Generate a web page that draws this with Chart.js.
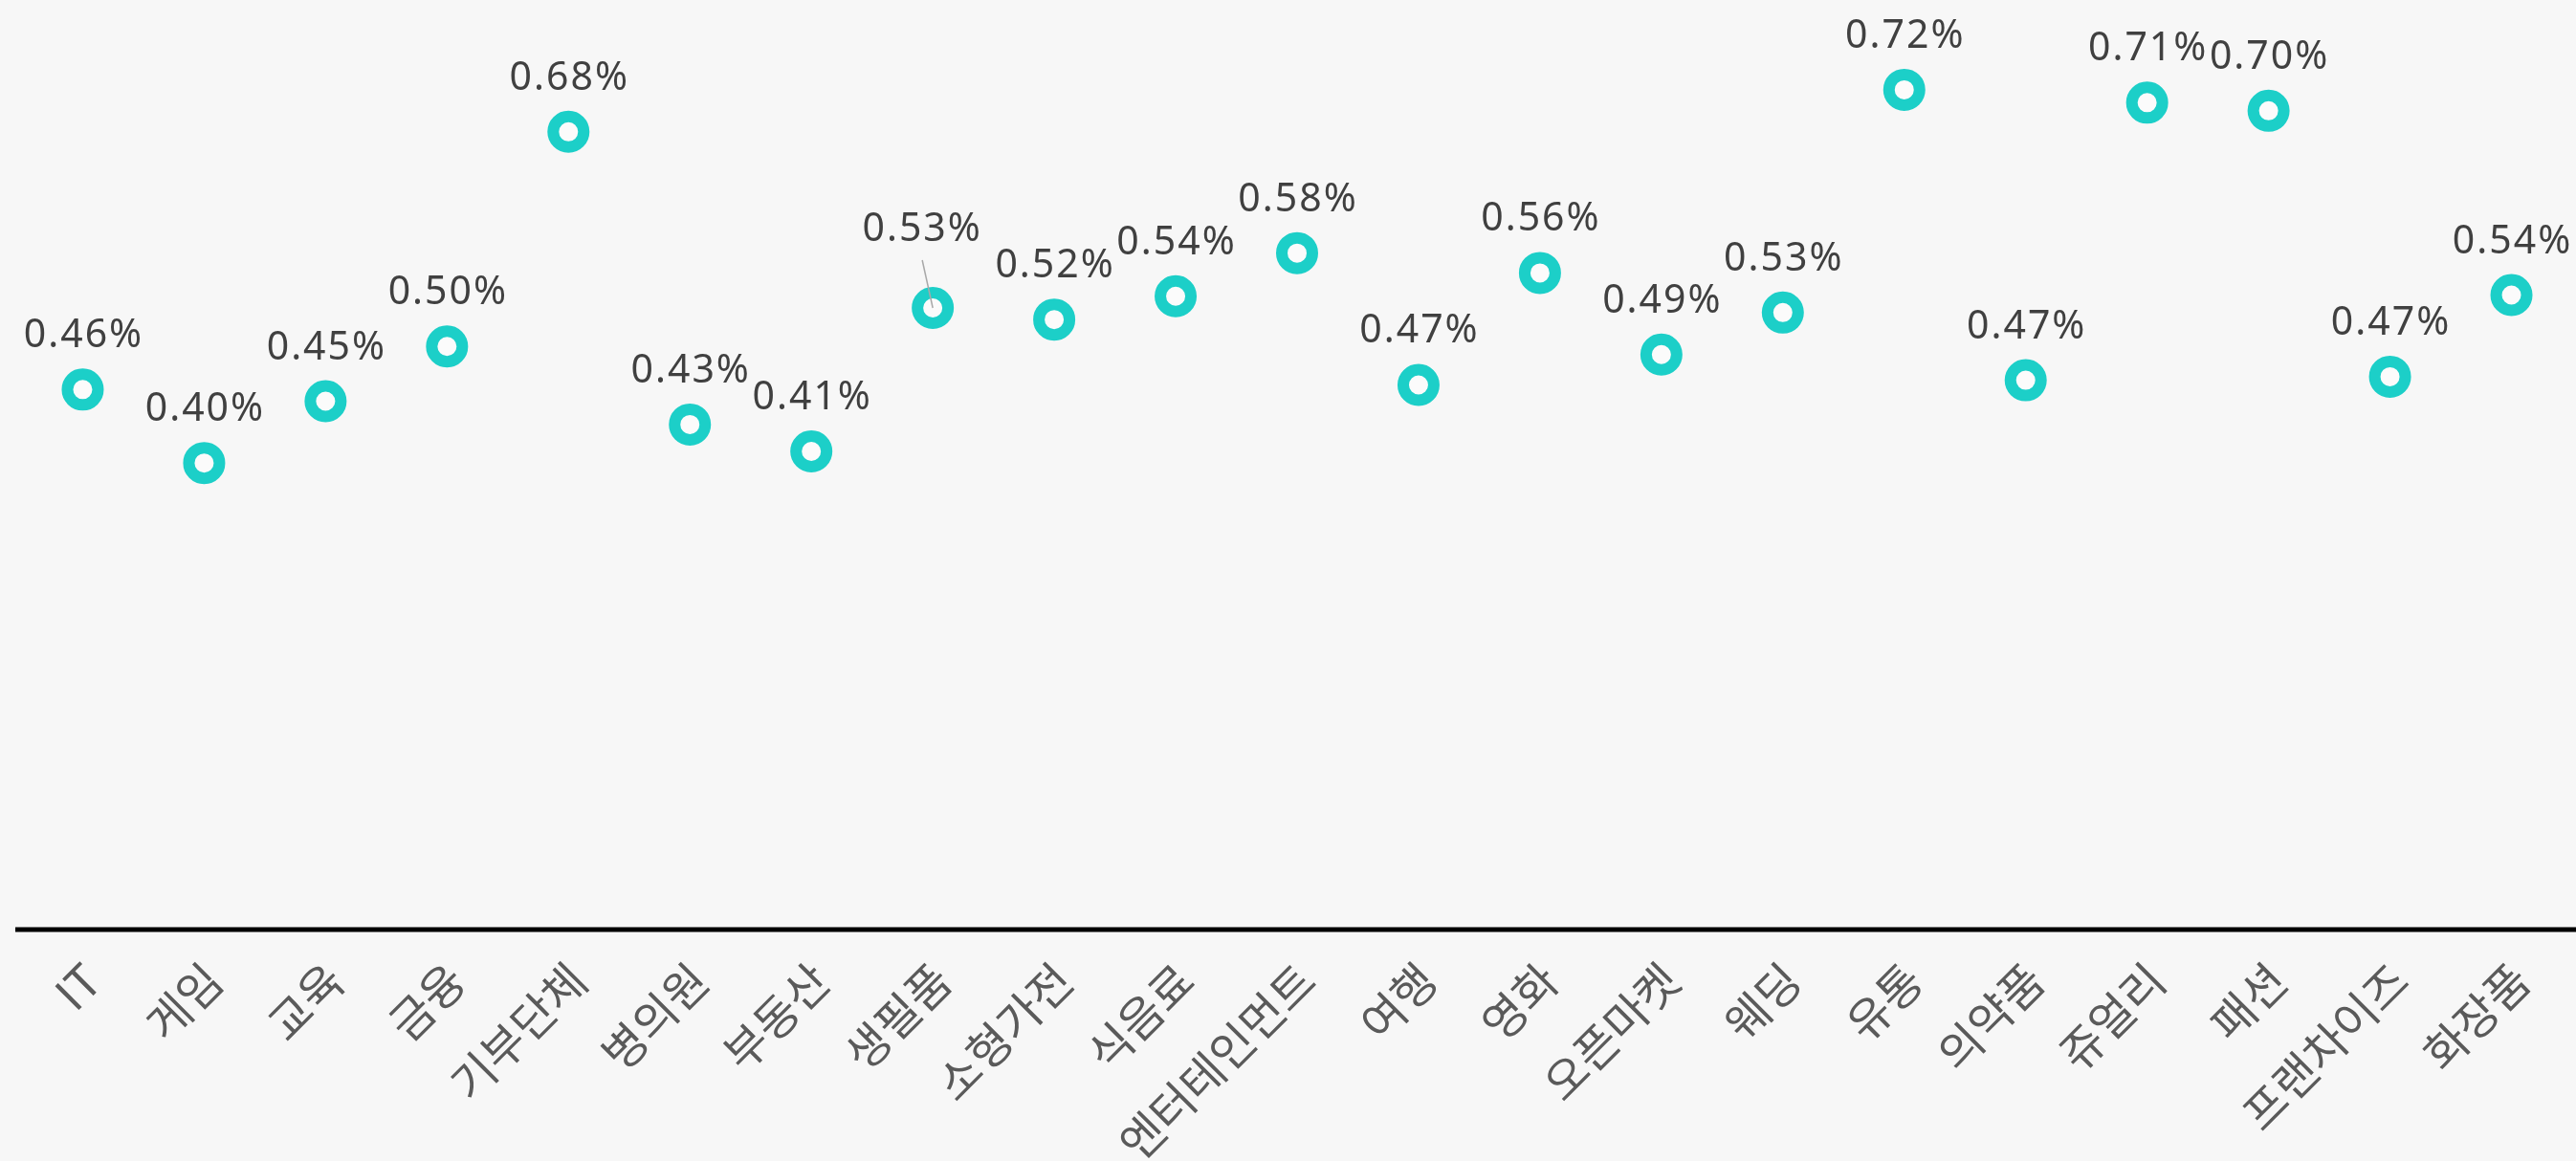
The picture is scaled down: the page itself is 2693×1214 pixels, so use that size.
<!DOCTYPE html>
<html lang="ko">
<head>
<meta charset="utf-8">
<title>업종별 비율</title>
<script src="https://cdn.jsdelivr.net/npm/chart.js@4.4.1/dist/chart.umd.min.js"></script>
<style>
  html, body { margin: 0; padding: 0; background: #f7f7f7; }
  #wrap { width: 2693px; height: 1214px; position: relative; }
</style>
</head>
<body>
<div id="wrap"><canvas id="chart"></canvas></div>
<script>
// Categories (x axis)
const categories = [
  'IT', '게임', '교육', '금융', '기부단체', '병의원', '부동산', '생필품',
  '소형가전', '식음료', '엔터테인먼트', '여행', '영화', '오픈마켓', '웨딩',
  '유통', '의약품', '쥬얼리', '패션', '프랜차이즈', '화장품'
];

// Share per category, in percent
const shareValues = [
  0.463, 0.400, 0.453, 0.500, 0.684, 0.433, 0.410, 0.533,
  0.523, 0.543, 0.580, 0.467, 0.563, 0.493, 0.529,
  0.720, 0.471, 0.709, 0.702, 0.474, 0.544
];

// Colours
const colors = {
  background: '#f7f7f7',
  ring: '#1ccfc8',
  hole: '#fbfbfb',
  label: '#404040',
  tick: '#5a5a5a',
  axis: '#000000',
  leader: '#a8a8a8',
};

// Labels that were moved off their point in the original (index -> shift)
const labelNudges = { 7: { dx: -12, dy: -26 } };

// Draws the base line and the value labels above each point
const valueLabels = {
  id: 'valueLabels',
  beforeDatasetsDraw(chart) {
    const { ctx, chartArea } = chart;
    ctx.save();
    ctx.strokeStyle = colors.axis;
    ctx.lineWidth = 5;
    ctx.beginPath();
    ctx.moveTo(16, chartArea.bottom);
    ctx.lineTo(chart.width, chartArea.bottom);
    ctx.stroke();
    ctx.restore();
  },
  afterDatasetsDraw(chart) {
    const { ctx } = chart;
    const meta = chart.getDatasetMeta(0);
    ctx.save();
    ctx.font = "41px 'Noto Sans', sans-serif";
    ctx.letterSpacing = '2px';
    ctx.textAlign = 'center';
    ctx.textBaseline = 'alphabetic';
    meta.data.forEach((pt, i) => {
      const nudge = labelNudges[i] || { dx: 0, dy: 0 };
      const lx = pt.x + nudge.dx;
      const ly = pt.y - 44 + nudge.dy;
      if (labelNudges[i]) {
        ctx.strokeStyle = colors.leader;
        ctx.lineWidth = 1.5;
        ctx.beginPath();
        ctx.moveTo(lx + 1, ly + 20);
        ctx.lineTo(pt.x, pt.y);
        ctx.stroke();
      }
      ctx.fillStyle = colors.label;
      ctx.fillText(shareValues[i].toFixed(2) + '%', lx + 1, ly);
    });
    ctx.restore();
  },
};

const ctx = document.getElementById('chart').getContext('2d');

new Chart(ctx, {
  type: 'line',
  data: {
    labels: categories,
    datasets: [{
      data: shareValues,
      showLine: false,
      pointRadius: 16,
      pointHoverRadius: 16,
      pointBorderWidth: 12,
      pointBorderColor: colors.ring,
      pointBackgroundColor: colors.hole,
    }],
  },
  options: {
    responsive: true,
    maintainAspectRatio: false,
    animation: false,
    layout: { autoPadding: false, padding: { left: 23, right: 4, top: 0, bottom: 0 } },
    plugins: {
      legend: { display: false },
      tooltip: { enabled: false },
    },
    scales: {
      x: {
        offset: true,
        grid: { display: false, drawTicks: false },
        border: { display: false },
        ticks: {
          color: colors.tick,
          font: { family: "'Noto Sans CJK KR', sans-serif", size: 48 },
          minRotation: 45,
          maxRotation: 45,
          padding: 24,
          labelOffset: 10,
          autoSkip: false,
        },
        afterFit(scale) {
          scale.height = 242;
        },
      },
      y: {
        display: false,
        min: 0,
        max: 0.797,
      },
    },
  },
  plugins: [valueLabels],
});
</script>
</body>
</html>
